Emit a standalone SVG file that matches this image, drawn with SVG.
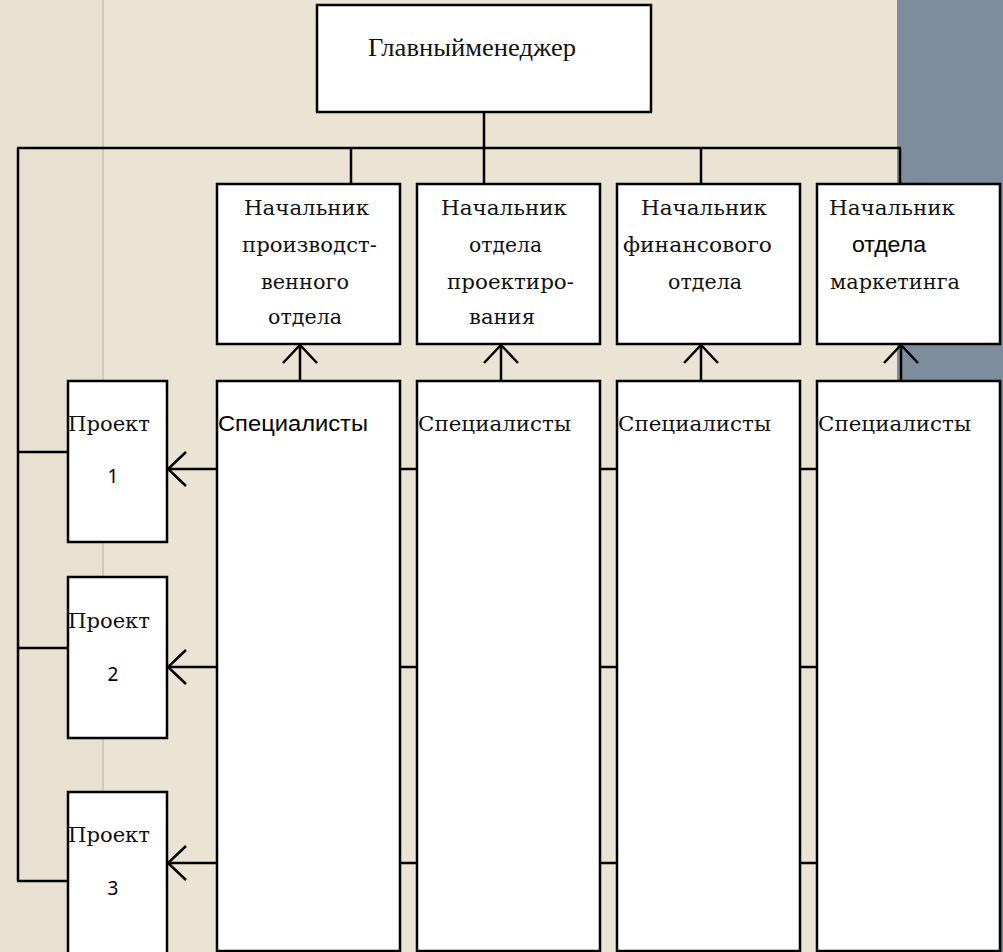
<svg xmlns="http://www.w3.org/2000/svg" width="1003" height="952" viewBox="0 0 1003 952">
<style>
.box{fill:#ffffff;stroke:#000;stroke-width:2.5}
.ln{fill:none;stroke:#000;stroke-width:2.5}
.serif{font-family:"DejaVu Serif","Liberation Serif",serif;font-size:21px;fill:#111}
.title{font-family:"Liberation Serif",serif;font-size:26px;fill:#111}
.sans{font-family:"Liberation Sans",Arial,sans-serif;font-size:22px;fill:#000}
.num{font-family:"Noto Sans","Open Sans",sans-serif;font-size:19px;fill:#000}
</style>
<defs>
<marker id="open" markerUnits="userSpaceOnUse" markerWidth="44" markerHeight="44" viewBox="-22 -22 44 44" refX="0" refY="0" orient="auto" overflow="visible">
<path d="M-18,-17 L0,0 L-18,17" fill="none" stroke="#000" stroke-width="2.5"/>
</marker>
</defs>
<g id="background">
<rect x="0" y="0" width="1003" height="952" fill="#ebe3d4"/>
<rect x="0" y="0" width="103" height="952" fill="#e8e0d0"/>
<line x1="103" y1="0" x2="103" y2="952" stroke="#cfc8bb" stroke-width="2"/>
<rect x="897" y="0" width="106" height="381" fill="#7d8d9d"/>
<rect x="1000" y="381" width="3" height="571" fill="#6f7f8e"/>
</g>
<g id="connectors">
<line class="ln" x1="484" y1="112" x2="484" y2="148"/>
<line class="ln" x1="17" y1="148" x2="901" y2="148"/>
<line class="ln" x1="351" y1="148" x2="351" y2="184"/>
<line class="ln" x1="484" y1="148" x2="484" y2="184"/>
<line class="ln" x1="701" y1="148" x2="701" y2="184"/>
<line class="ln" x1="900" y1="148" x2="900" y2="184"/>
<line class="ln" x1="18" y1="148" x2="18" y2="881"/>
<line class="ln" x1="17" y1="452" x2="68" y2="452"/>
<line class="ln" x1="17" y1="648" x2="68" y2="648"/>
<line class="ln" x1="17" y1="881" x2="68" y2="881"/>
<line class="ln" x1="300" y1="381" x2="300" y2="345" marker-end="url(#open)"/>
<line class="ln" x1="501" y1="381" x2="501" y2="345" marker-end="url(#open)"/>
<line class="ln" x1="701" y1="381" x2="701" y2="345" marker-end="url(#open)"/>
<line class="ln" x1="901" y1="381" x2="901" y2="345" marker-end="url(#open)"/>
<line class="ln" x1="217" y1="469" x2="168" y2="469" marker-end="url(#open)"/>
<line class="ln" x1="217" y1="667" x2="168" y2="667" marker-end="url(#open)"/>
<line class="ln" x1="217" y1="863" x2="168" y2="863" marker-end="url(#open)"/>
<line class="ln" x1="400" y1="469" x2="417" y2="469"/>
<line class="ln" x1="600" y1="469" x2="617" y2="469"/>
<line class="ln" x1="800" y1="469" x2="817" y2="469"/>
<line class="ln" x1="400" y1="667" x2="417" y2="667"/>
<line class="ln" x1="600" y1="667" x2="617" y2="667"/>
<line class="ln" x1="800" y1="667" x2="817" y2="667"/>
<line class="ln" x1="400" y1="863" x2="417" y2="863"/>
<line class="ln" x1="600" y1="863" x2="617" y2="863"/>
<line class="ln" x1="800" y1="863" x2="817" y2="863"/>
</g>
<g id="main-manager">
<rect class="box" x="317" y="5" width="334" height="107"/>
<text class="title" x="368" y="56" textLength="208" lengthAdjust="spacingAndGlyphs">Главныйменеджер</text>
</g>
<g id="head-production">
<rect class="box" x="217" y="184" width="183" height="160"/>
<text class="serif" x="244" y="215" textLength="125" lengthAdjust="spacingAndGlyphs">Начальник</text>
<text class="serif" x="242" y="252" textLength="135" lengthAdjust="spacingAndGlyphs">производст-</text>
<text class="serif" x="261" y="289" textLength="88" lengthAdjust="spacingAndGlyphs">венного</text>
<text class="serif" x="268" y="324" textLength="74" lengthAdjust="spacingAndGlyphs">отдела</text>
</g>
<g id="head-design">
<rect class="box" x="417" y="184" width="183" height="160"/>
<text class="serif" x="441" y="215" textLength="126" lengthAdjust="spacingAndGlyphs">Начальник</text>
<text class="serif" x="469" y="252" textLength="73" lengthAdjust="spacingAndGlyphs">отдела</text>
<text class="serif" x="447" y="289" textLength="127" lengthAdjust="spacingAndGlyphs">проектиро-</text>
<text class="serif" x="469" y="324" textLength="66" lengthAdjust="spacingAndGlyphs">вания</text>
</g>
<g id="head-finance">
<rect class="box" x="617" y="184" width="183" height="160"/>
<text class="serif" x="641" y="215" textLength="126" lengthAdjust="spacingAndGlyphs">Начальник</text>
<text class="serif" x="623" y="252" textLength="149" lengthAdjust="spacingAndGlyphs">финансового</text>
<text class="serif" x="668" y="289" textLength="74" lengthAdjust="spacingAndGlyphs">отдела</text>
</g>
<g id="head-marketing">
<rect class="box" x="817" y="184" width="183" height="160"/>
<text class="serif" x="829" y="215" textLength="126" lengthAdjust="spacingAndGlyphs">Начальник</text>
<text class="sans" x="852" y="252" textLength="74" lengthAdjust="spacingAndGlyphs">отдела</text>
<text class="serif" x="830" y="289" textLength="130" lengthAdjust="spacingAndGlyphs">маркетинга</text>
</g>
<g id="specialists-1">
<rect class="box" x="217" y="381" width="183" height="570"/>
<text class="sans" x="218" y="431" textLength="150" lengthAdjust="spacingAndGlyphs">Специалисты</text>
</g>
<g id="specialists-2">
<rect class="box" x="417" y="381" width="183" height="570"/>
<text class="serif" x="418" y="431" textLength="153" lengthAdjust="spacingAndGlyphs">Специалисты</text>
</g>
<g id="specialists-3">
<rect class="box" x="617" y="381" width="183" height="570"/>
<text class="serif" x="618" y="431" textLength="153" lengthAdjust="spacingAndGlyphs">Специалисты</text>
</g>
<g id="specialists-4">
<rect class="box" x="817" y="381" width="183" height="570"/>
<text class="serif" x="818" y="431" textLength="153" lengthAdjust="spacingAndGlyphs">Специалисты</text>
</g>
<g id="project-1">
<rect class="box" x="68" y="381" width="99" height="161"/>
<text class="serif" x="68" y="431" textLength="82" lengthAdjust="spacingAndGlyphs">Проект</text>
<text class="num" x="113" y="483" text-anchor="middle">1</text>
</g>
<g id="project-2">
<rect class="box" x="68" y="577" width="99" height="161"/>
<text class="serif" x="68" y="628" textLength="82" lengthAdjust="spacingAndGlyphs">Проект</text>
<text class="num" x="113" y="681" text-anchor="middle">2</text>
</g>
<g id="project-3">
<rect class="box" x="68" y="792" width="99" height="170"/>
<text class="serif" x="68" y="842" textLength="82" lengthAdjust="spacingAndGlyphs">Проект</text>
<text class="num" x="113" y="895" text-anchor="middle">3</text>
</g>
</svg>
